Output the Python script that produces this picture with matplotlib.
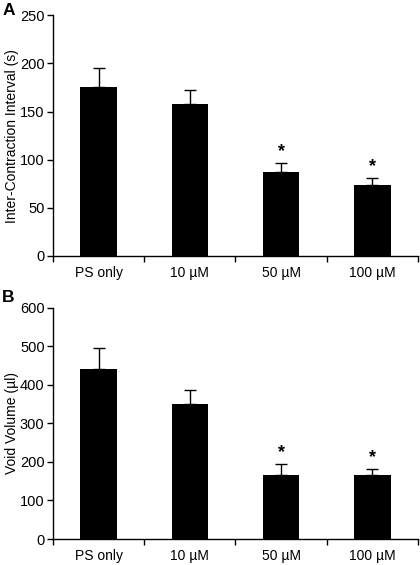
import matplotlib
matplotlib.use("Agg")
import matplotlib.pyplot as plt
import numpy as np

plt.rcParams['font.family'] = ['Liberation Sans', 'DejaVu Sans']

categories = ["PS only", "10 µM", "50 µM", "100 µM"]
ici_mean = [175, 158, 87, 74]
ici_err = [20, 14, 10, 7]
void_mean = [441, 350, 166, 166]
void_err = [55, 37, 29, 16]
signif = [False, False, True, True]

fig = plt.figure(figsize=(4.2, 5.65), dpi=100)

def panel(rect, means, errs, ylim, yticks, ylabel, star_off):
    ax = fig.add_axes(rect)
    x = np.arange(len(categories))
    ax.bar(x, means, width=0.4, color='black', zorder=2)
    ax.errorbar(x, means, yerr=[np.zeros(len(errs)), errs], fmt='none',
                ecolor='black', elinewidth=1, capsize=4, capthick=1, zorder=3)
    for xi, m, e, s in zip(x, means, errs, signif):
        if s:
            ax.text(xi, m + e + star_off, '*', ha='center', va='bottom',
                    fontsize=13, fontweight='bold')
    ax.set_xlim(-0.5, len(categories) - 0.5)
    ax.set_ylim(*ylim)
    ax.set_yticks(yticks)
    ax.set_xticks(np.arange(-0.5, len(categories), 1.0))
    ax.set_xticklabels([])
    ax.set_xticks(x, minor=True)
    ax.set_xticklabels(categories, minor=True, fontsize=10)
    ax.tick_params(axis='x', which='minor', length=0, pad=7)
    ax.tick_params(axis='x', which='major', direction='out', length=4, width=1)
    ax.tick_params(axis='y', direction='out', length=4, width=1, labelsize=10.5, pad=2)
    for s in ['top', 'right']:
        ax.spines[s].set_visible(False)
    ax.spines['left'].set_linewidth(1)
    ax.spines['bottom'].set_linewidth(1)
    ax.set_ylabel(ylabel, fontsize=10)
    ax.yaxis.set_label_coords(-0.113, 0.5)
    ax.yaxis.label.set_va('center')
    return ax

axA = panel([0.126, 0.547, 0.869, 0.426], ici_mean, ici_err, (0, 250),
            [0, 50, 100, 150, 200, 250], 'Inter-Contraction Interval (s)', 3)
axB = panel([0.126, 0.046, 0.869, 0.409], void_mean, void_err, (0, 600),
            [0, 100, 200, 300, 400, 500, 600], 'Void Volume (µl)', 8)

fig.text(0.005, 0.982, 'A', fontsize=12.5, fontweight='bold', va='center', ha='left')
fig.text(0.005, 0.473, 'B', fontsize=12.5, fontweight='bold', va='center', ha='left')

fig.savefig('out.png', dpi=100)
